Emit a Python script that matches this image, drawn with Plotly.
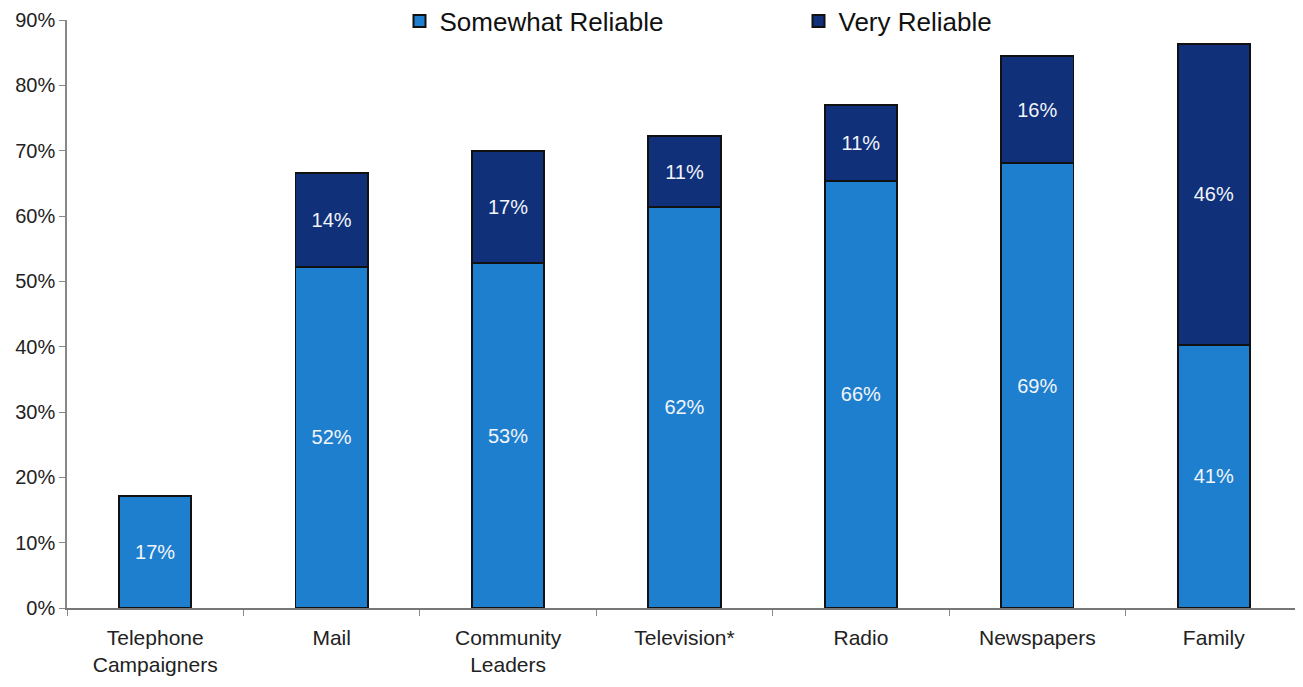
import plotly.graph_objects as go

categories = ["Telephone<br>Campaigners", "Mail", "Community<br>Leaders", "Television*",
              "Radio", "Newspapers", "Family"]
somewhat = [17.1, 52.2, 52.8, 61.4, 65.4, 68.1, 40.3]
very = [None, 14.4, 17.2, 10.8, 11.6, 16.4, 46.0]
somewhat_labels = ["17%", "52%", "53%", "62%", "66%", "69%", "41%"]
very_labels = ["", "14%", "17%", "11%", "11%", "16%", "46%"]
tick_vals = [0, 10, 20, 30, 40, 50, 60, 70, 80, 90]
tick_text = ["0%", "10%", "20%", "30%", "40%", "50%", "60%", "70%", "80%", "90%"]

FONT = "Liberation Sans, Arial, sans-serif"
C_SOME = "#1f7fcf"
C_VERY = "#10307a"
W, H = 1295, 679

fig = go.Figure()
fig.add_trace(go.Bar(
    x=categories, y=somewhat, name="Somewhat Reliable", showlegend=False,
    marker=dict(color=C_SOME, line=dict(color="#111111", width=1.8)),
    text=somewhat_labels, textposition="inside", insidetextanchor="middle",
    textfont=dict(color="#f2f5fa", size=20, family=FONT),
))
fig.add_trace(go.Bar(
    x=categories, y=very, name="Very Reliable", showlegend=False,
    marker=dict(color=C_VERY, line=dict(color="#111111", width=1.8)),
    text=very_labels, textposition="inside", insidetextanchor="middle",
    textfont=dict(color="#f2f5fa", size=20, family=FONT),
))
# legend-only entries with square swatches
for nm, col in [("Somewhat Reliable", C_SOME), ("Very Reliable", C_VERY)]:
    fig.add_trace(go.Scatter(
        x=[None], y=[None], mode="markers", name=nm, showlegend=True,
        marker=dict(symbol="square", size=17, color=col, line=dict(color="#111111", width=1.5)),
    ))

fig.update_layout(
    barmode="stack", bargap=0.59,
    width=W, height=H,
    margin=dict(l=59, r=1, t=12, b=79, autoexpand=False),
    paper_bgcolor="white", plot_bgcolor="white",
    font=dict(family=FONT, color="#222222", size=20),
    showlegend=True,
    legend=dict(orientation="h", traceorder="normal",
                x=391.5 / W, xanchor="left", xref="container",
                y=1 - 13 / H, yanchor="middle", yref="container",
                font=dict(size=26, color="#111111", family=FONT),
                entrywidth=354, entrywidthmode="pixels",
                bgcolor="rgba(0,0,0,0)", itemsizing="constant", itemwidth=30),
    uniformtext=dict(mode=False),
)
fig.update_yaxes(range=[0, 90], tickvals=tick_vals, ticktext=tick_text, automargin=False,
                 showgrid=False, showline=True, linecolor="#888888", linewidth=1.5,
                 ticks="outside", ticklen=6, tickcolor="#888888",
                 tickfont=dict(size=20, color="#222222"), zeroline=False)
fig.update_xaxes(showgrid=False, showline=True, linecolor="#777777", linewidth=1.5, automargin=False,
                 ticks="outside", tickson="boundaries", ticklen=6, tickcolor="#888888",
                 ticklabelstandoff=10,
                 tickfont=dict(size=21, color="#222222"))

fig.write_html("out.html")
